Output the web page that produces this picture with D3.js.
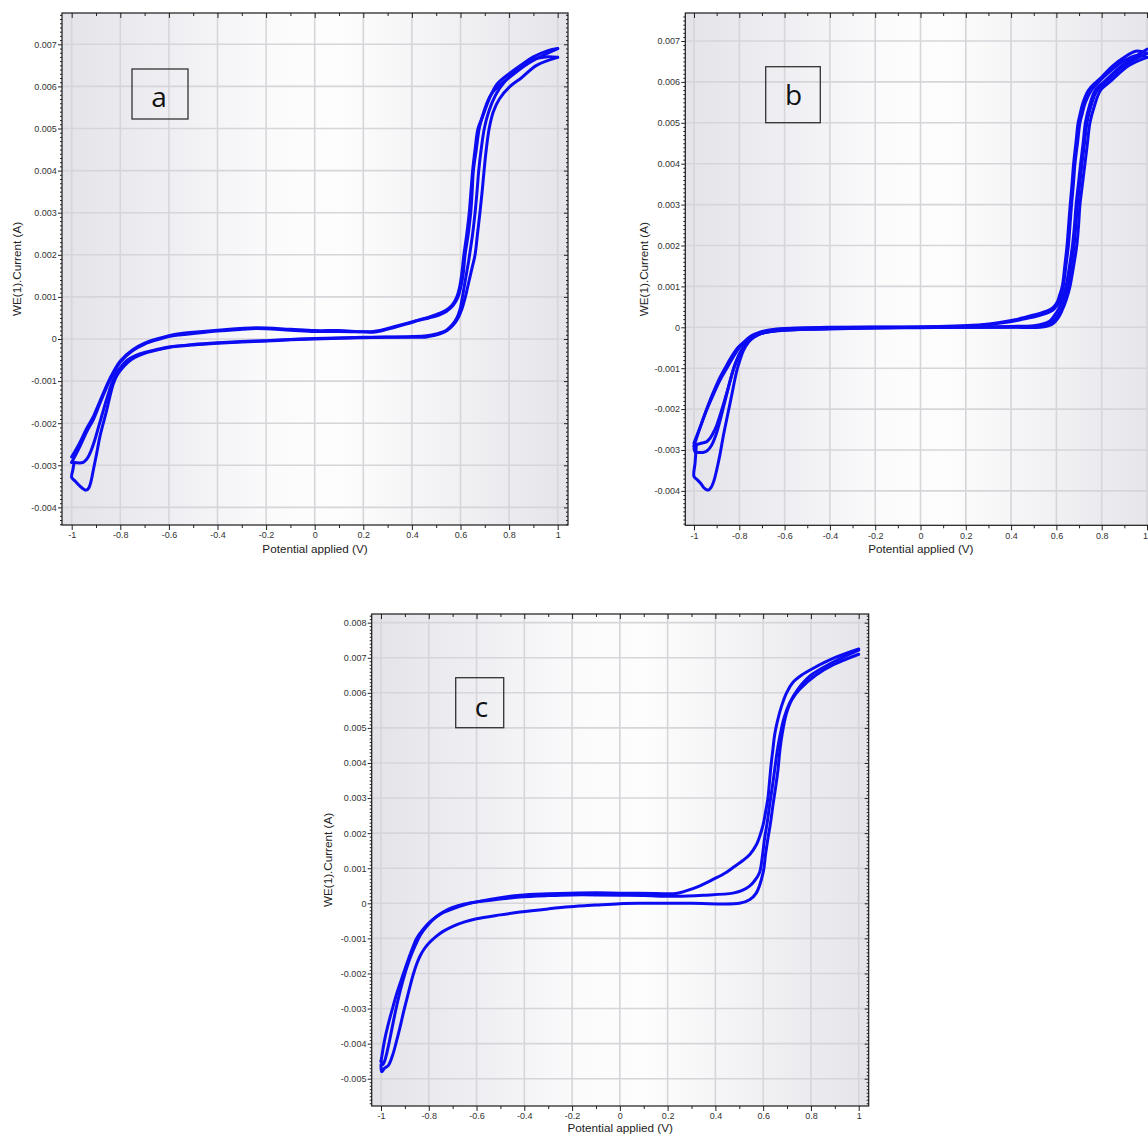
<!DOCTYPE html>
<html>
<head>
<meta charset="utf-8">
<script src="https://cdn.jsdelivr.net/npm/d3@7"></script>
<style>
  body { margin: 0; background: #ffffff; }
  svg { display: block; }
</style>
</head>
<body>
<script>
// ---------------- DATA (Potential V, Current A) ----------------
const xTicks = [-1, -0.8, -0.6, -0.4, -0.2, 0, 0.2, 0.4, 0.6, 0.8, 1];
const aYTicks = [-0.004, -0.003, -0.002, -0.001, 0, 0.001, 0.002, 0.003, 0.004, 0.005, 0.006, 0.007];
const bYTicks = [-0.004, -0.003, -0.002, -0.001, 0, 0.001, 0.002, 0.003, 0.004, 0.005, 0.006, 0.007];
const cYTicks = [-0.005, -0.004, -0.003, -0.002, -0.001, 0, 0.001, 0.002, 0.003, 0.004, 0.005, 0.006, 0.007, 0.008];
const panelLetters = ["a", "b", "c"];
const xTitle = "Potential applied (V)";
const yTitle = "WE(1).Current (A)";

// Panel a
const aFwd1 = [[-0.99,-0.00293],[-0.995,-0.0031],[-1.0,-0.00329],[-0.985,-0.00338],[-0.965,-0.0035],[-0.95,-0.00357],[-0.941,-0.00359],[-0.93,-0.00354],[-0.92,-0.00337],[-0.911,-0.00311],[-0.897,-0.00271],[-0.884,-0.00232],[-0.87,-0.002],[-0.856,-0.00169],[-0.843,-0.00137],[-0.829,-0.00107],[-0.815,-0.00088],[-0.8,-0.00075],[-0.77,-0.00056],[-0.74,-0.00044],[-0.7,-0.00034],[-0.65,-0.00026],[-0.6,-0.0002],[-0.5,-0.00014],[-0.4,-0.0001],[-0.3,-0.00007],[-0.2,-0.00005],[-0.1,-0.00002],[0.0,0.0],[0.1,0.00002],[0.2,0.00003],[0.3,0.00004],[0.4,0.00004],[0.46,0.00005],[0.49,0.00008],[0.516,0.00012],[0.545,0.0002],[0.57,0.00033],[0.59,0.0005],[0.605,0.0007],[0.62,0.001],[0.632,0.0013],[0.648,0.0017],[0.66,0.002],[0.67,0.0025],[0.68,0.003],[0.689,0.0035],[0.697,0.004],[0.706,0.0045],[0.718,0.005],[0.735,0.0054],[0.76,0.0057],[0.804,0.006],[0.85,0.0062],[0.913,0.0065],[1.0,0.00669]];
const aRev1 = [[1.0,0.00669],[0.95,0.0067],[0.9,0.00664],[0.866,0.0065],[0.82,0.0063],[0.78,0.00612],[0.756,0.006],[0.725,0.0058],[0.702,0.0055],[0.686,0.0052],[0.677,0.005],[0.665,0.0045],[0.653,0.004],[0.648,0.0035],[0.642,0.003],[0.632,0.0025],[0.619,0.002],[0.61,0.0015],[0.6,0.0012],[0.59,0.001],[0.57,0.0008],[0.543,0.00066],[0.516,0.00058],[0.47,0.0005],[0.433,0.00045],[0.38,0.00036],[0.33,0.00028],[0.28,0.0002],[0.241,0.00016],[0.2,0.00017],[0.1,0.00018],[0.0,0.00018],[-0.1,0.00021],[-0.24,0.00025],[-0.3,0.00023],[-0.4,0.00019],[-0.45,0.00016],[-0.5,0.00013],[-0.55,0.0001],[-0.6,0.00006],[-0.65,-0.00002],[-0.7,-0.00012],[-0.75,-0.00028],[-0.8,-0.00055],[-0.842,-0.00097],[-0.884,-0.00153],[-0.91,-0.0019],[-0.938,-0.0022],[-0.97,-0.0026],[-1.0,-0.00293]];
const aFwd2 = [[-1.0,-0.00293],[-0.98,-0.00294],[-0.96,-0.00294],[-0.95,-0.00292],[-0.935,-0.00283],[-0.92,-0.00265],[-0.905,-0.0024],[-0.89,-0.0021],[-0.875,-0.0018],[-0.86,-0.0015],[-0.845,-0.00122],[-0.83,-0.00098],[-0.815,-0.0008],[-0.8,-0.00068],[-0.77,-0.0005],[-0.74,-0.0004],[-0.7,-0.00032],[-0.65,-0.00025],[-0.6,-0.00019],[-0.5,-0.00013],[-0.4,-0.00009],[-0.3,-0.00006],[-0.2,-0.00004],[-0.1,-0.00001],[0.0,0.00001],[0.2,0.00004],[0.4,0.00006],[0.46,0.00008],[0.5,0.00012],[0.54,0.0002],[0.565,0.00033],[0.585,0.0005],[0.598,0.0007],[0.608,0.001],[0.62,0.0014],[0.632,0.0018],[0.64,0.0021],[0.65,0.0025],[0.66,0.003],[0.668,0.0035],[0.675,0.004],[0.685,0.0045],[0.698,0.005],[0.716,0.0054],[0.745,0.0058],[0.78,0.0061],[0.84,0.0064],[0.92,0.00668],[1.0,0.0069]];
const aRev2 = [[1.0,0.0069],[0.96,0.00685],[0.9,0.0067],[0.86,0.00655],[0.8,0.0063],[0.75,0.00605],[0.718,0.0057],[0.692,0.0053],[0.672,0.005],[0.66,0.0045],[0.65,0.004],[0.643,0.0035],[0.636,0.003],[0.626,0.0025],[0.614,0.002],[0.604,0.0015],[0.595,0.0012],[0.585,0.001],[0.565,0.0008],[0.54,0.00068],[0.5,0.00058],[0.433,0.00046],[0.33,0.0003],[0.241,0.00018],[0.1,0.0002],[0.0,0.0002],[-0.1,0.00023],[-0.24,0.00027],[-0.4,0.00021],[-0.5,0.00016],[-0.55,0.00013],[-0.6,0.00008],[-0.65,0.0],[-0.7,-0.0001],[-0.75,-0.00026],[-0.8,-0.00052],[-0.842,-0.00093],[-0.884,-0.00148],[-0.91,-0.00183],[-0.938,-0.00212],[-0.97,-0.0025],[-1.0,-0.0028]];

// Panel b
const bFwd1 = [[-0.99,-0.0029],[-0.995,-0.0033],[-1.0,-0.00365],[-0.985,-0.00373],[-0.97,-0.00382],[-0.955,-0.00393],[-0.945,-0.00397],[-0.937,-0.00398],[-0.925,-0.00392],[-0.912,-0.00375],[-0.9,-0.00349],[-0.885,-0.0031],[-0.871,-0.00267],[-0.856,-0.00226],[-0.841,-0.00186],[-0.826,-0.00145],[-0.811,-0.00106],[-0.797,-0.0008],[-0.782,-0.00057],[-0.76,-0.00037],[-0.738,-0.00024],[-0.7,-0.00014],[-0.65,-0.00009],[-0.6,-0.00007],[-0.5,-0.00005],[-0.4,-0.00004],[-0.2,-0.00002],[0.0,-0.00001],[0.2,0.0],[0.4,0.0],[0.528,0.0],[0.56,0.00003],[0.587,0.0001],[0.61,0.00025],[0.624,0.0004],[0.645,0.0007],[0.66,0.001],[0.676,0.0015],[0.69,0.002],[0.698,0.0025],[0.704,0.003],[0.715,0.0035],[0.726,0.004],[0.737,0.0045],[0.748,0.005],[0.767,0.0054],[0.795,0.0058],[0.836,0.006],[0.92,0.0064],[1.0,0.0066]];
const bRev1 = [[1.0,0.0066],[0.96,0.00665],[0.9,0.00652],[0.85,0.00632],[0.8,0.00607],[0.78,0.00595],[0.755,0.0058],[0.728,0.0055],[0.713,0.0052],[0.704,0.005],[0.693,0.0045],[0.682,0.004],[0.675,0.0035],[0.667,0.003],[0.66,0.0025],[0.653,0.002],[0.642,0.0015],[0.63,0.001],[0.62,0.0008],[0.609,0.0006],[0.59,0.00045],[0.572,0.00038],[0.52,0.00028],[0.454,0.0002],[0.38,0.00012],[0.307,0.00007],[0.2,0.00003],[0.0,0.0],[-0.2,0.0],[-0.4,-0.00001],[-0.591,-0.00004],[-0.65,-0.00007],[-0.709,-0.00014],[-0.74,-0.00022],[-0.767,-0.00034],[-0.8,-0.0005],[-0.826,-0.00072],[-0.855,-0.001],[-0.885,-0.00129],[-0.915,-0.00165],[-0.944,-0.00202],[-0.97,-0.0024],[-1.0,-0.00283]];
const bFwd2 = [[-1.0,-0.00295],[-0.995,-0.00305],[-0.98,-0.00306],[-0.96,-0.00306],[-0.945,-0.00303],[-0.93,-0.00295],[-0.915,-0.0028],[-0.9,-0.00258],[-0.885,-0.00228],[-0.87,-0.00195],[-0.855,-0.00162],[-0.84,-0.0013],[-0.825,-0.001],[-0.81,-0.00078],[-0.795,-0.0006],[-0.775,-0.00044],[-0.75,-0.0003],[-0.72,-0.00019],[-0.68,-0.00012],[-0.6,-0.00007],[-0.4,-0.00003],[-0.2,-0.00001],[0.0,0.0],[0.2,0.0],[0.4,0.00001],[0.52,0.00002],[0.555,0.00005],[0.58,0.00012],[0.6,0.00025],[0.618,0.0004],[0.636,0.0007],[0.65,0.001],[0.665,0.0015],[0.678,0.002],[0.686,0.0025],[0.693,0.003],[0.703,0.0035],[0.713,0.004],[0.724,0.0045],[0.735,0.005],[0.752,0.0054],[0.78,0.0058],[0.82,0.006],[0.9,0.0064],[1.0,0.0067]];
const bRev2 = [[1.0,0.0067],[0.95,0.00675],[0.9,0.0066],[0.85,0.0064],[0.8,0.00612],[0.772,0.00598],[0.742,0.0058],[0.718,0.0055],[0.704,0.0052],[0.696,0.005],[0.686,0.0045],[0.676,0.004],[0.669,0.0035],[0.661,0.003],[0.654,0.0025],[0.647,0.002],[0.637,0.0015],[0.626,0.001],[0.615,0.0008],[0.604,0.00062],[0.585,0.00048],[0.56,0.0004],[0.5,0.0003],[0.43,0.0002],[0.35,0.00012],[0.28,0.00007],[0.15,0.00003],[0.0,0.00001],[-0.2,0.00001],[-0.4,0.0],[-0.6,-0.00003],[-0.66,-0.00006],[-0.715,-0.00013],[-0.745,-0.0002],[-0.772,-0.00032],[-0.805,-0.00049],[-0.832,-0.0007],[-0.86,-0.00097],[-0.89,-0.00128],[-0.92,-0.00166],[-0.948,-0.00206],[-0.975,-0.00248],[-1.0,-0.0029]];
const bFwd3 = [[-1.0,-0.0029],[-0.985,-0.00286],[-0.965,-0.00283],[-0.945,-0.0028],[-0.93,-0.00272],[-0.915,-0.00258],[-0.9,-0.0024],[-0.885,-0.00215],[-0.87,-0.00188],[-0.855,-0.0016],[-0.84,-0.0013],[-0.825,-0.00102],[-0.81,-0.0008],[-0.795,-0.00062],[-0.775,-0.00045],[-0.75,-0.0003],[-0.72,-0.00019],[-0.68,-0.00012],[-0.6,-0.00006],[-0.4,-0.00003],[-0.2,-0.00001],[0.0,0.0],[0.2,0.00001],[0.4,0.00002],[0.5,0.00004],[0.54,0.00008],[0.57,0.00015],[0.59,0.00028],[0.61,0.00045],[0.628,0.00075],[0.642,0.001],[0.658,0.0015],[0.671,0.002],[0.68,0.0025],[0.687,0.003],[0.697,0.0035],[0.707,0.004],[0.718,0.0045],[0.728,0.005],[0.745,0.0054],[0.772,0.0058],[0.81,0.006],[0.89,0.0064],[1.0,0.0068]];

// Panel c
const cFwd1 = [[-1.0,-0.0046],[-0.997,-0.0048],[-0.985,-0.0047],[-0.969,-0.00462],[-0.95,-0.0043],[-0.934,-0.0039],[-0.92,-0.00352],[-0.907,-0.00314],[-0.893,-0.00276],[-0.879,-0.00238],[-0.865,-0.00203],[-0.851,-0.00174],[-0.837,-0.00151],[-0.82,-0.00131],[-0.8,-0.00114],[-0.77,-0.00095],[-0.74,-0.0008],[-0.697,-0.00065],[-0.65,-0.00053],[-0.6,-0.00044],[-0.5,-0.00033],[-0.418,-0.00025],[-0.3,-0.00016],[-0.209,-0.0001],[-0.1,-0.00005],[0.0,-0.00001],[0.1,0.0],[0.3,0.0],[0.501,0.0],[0.543,0.0001],[0.571,0.00029],[0.6,0.00088],[0.61,0.0014],[0.62,0.00185],[0.631,0.0023],[0.641,0.0028],[0.652,0.0033],[0.662,0.0038],[0.669,0.0043],[0.679,0.0048],[0.697,0.0054],[0.72,0.0058],[0.753,0.0061],[0.82,0.0065],[0.894,0.0068],[1.0,0.0071]];
const cRev1 = [[1.0,0.00725],[0.9,0.007],[0.81,0.0067],[0.76,0.0065],[0.725,0.0063],[0.698,0.006],[0.676,0.0056],[0.66,0.0052],[0.648,0.0048],[0.641,0.0044],[0.634,0.004],[0.627,0.0035],[0.62,0.003],[0.61,0.0026],[0.6,0.00224],[0.585,0.0019],[0.571,0.00166],[0.545,0.0014],[0.515,0.00122],[0.48,0.00105],[0.445,0.00088],[0.39,0.00068],[0.333,0.00049],[0.28,0.00036],[0.235,0.00028],[0.15,0.00028],[0.0,0.00029],[-0.1,0.0003],[-0.209,0.00029],[-0.3,0.00027],[-0.418,0.00023],[-0.5,0.00016],[-0.6,0.00004],[-0.65,-0.00004],[-0.697,-0.00015],[-0.75,-0.0003],[-0.795,-0.00053],[-0.825,-0.00075],[-0.851,-0.001],[-0.872,-0.00135],[-0.892,-0.00172],[-0.913,-0.00214],[-0.934,-0.00257],[-0.952,-0.003],[-0.969,-0.00343],[-0.985,-0.0039],[-0.997,-0.00438],[-1.0,-0.0045]];
const cFwd2 = [[-1.0,-0.0045],[-0.993,-0.0046],[-0.985,-0.0045],[-0.97,-0.0041],[-0.955,-0.0036],[-0.94,-0.0031],[-0.925,-0.00265],[-0.91,-0.00225],[-0.893,-0.00185],[-0.875,-0.0015],[-0.855,-0.00118],[-0.835,-0.0009],[-0.81,-0.00067],[-0.78,-0.00045],[-0.74,-0.00025],[-0.7,-0.00012],[-0.65,-0.00002],[-0.6,0.00004],[-0.5,0.00012],[-0.418,0.00018],[-0.3,0.00022],[-0.2,0.00024],[-0.1,0.00024],[0.0,0.00023],[0.1,0.00022],[0.235,0.0002],[0.35,0.00023],[0.473,0.00029],[0.51,0.00036],[0.543,0.00049],[0.565,0.00065],[0.585,0.00088],[0.596,0.0013],[0.606,0.00185],[0.617,0.0023],[0.627,0.0028],[0.638,0.0033],[0.648,0.0038],[0.658,0.0043],[0.671,0.0048],[0.688,0.0053],[0.71,0.0057],[0.745,0.0061],[0.8,0.0065],[0.9,0.0069],[1.0,0.00722]];

// ---------------- LAYOUT ----------------
const W = 1148, H = 1135;
const panels = [
  { letter: panelLetters[0], l: 62, t: 13, r: 568, b: 525, xm1: 71.7, xp1: 557.7, y0: 339, pxPerMilli: 42.1,
    yTicks: aYTicks, scans: [aFwd1, aRev1, aFwd2, aRev2],
    box: { x: 132, y: 69, w: 56, h: 50, tx: 159, ty: 107 }, yTitleX: 21, xTitleY: 553 },
  { letter: panelLetters[1], l: 685.3, t: 13, r: 1156.5, b: 525.3, xm1: 694, xp1: 1147, y0: 327.3, pxPerMilli: 40.9,
    yTicks: bYTicks, scans: [bFwd1, bRev1, bFwd2, bRev2, bFwd3],
    box: { x: 765.7, y: 66.7, w: 54.6, h: 56, tx: 793.5, ty: 105 }, yTitleX: 648, xTitleY: 553 },
  { letter: panelLetters[2], l: 371.7, t: 614, r: 868.7, b: 1106, xm1: 381, xp1: 858.7, y0: 903.3, pxPerMilli: 35.08,
    yTicks: cYTicks, scans: [cFwd1, cRev1, cFwd2],
    box: { x: 455.7, y: 677.7, w: 48, h: 50, tx: 481.5, ty: 716.5 }, yTitleX: 332, xTitleY: 1132 }
];

const svg = d3.select("body").append("svg").attr("width", W).attr("height", H);
const defs = svg.append("defs");
const grad = defs.append("linearGradient").attr("id", "bgGrad").attr("x1", "0").attr("x2", "1").attr("y1", "0").attr("y2", "0");
[[0, "#e3e3e9"], [0.15, "#ebebf0"], [0.42, "#fbfbfc"], [0.55, "#fdfdfd"], [0.8, "#f0f0f3"], [1, "#e4e4ea"]]
  .forEach(([o, c]) => grad.append("stop").attr("offset", o).attr("stop-color", c));

const fmtX = d => String(+d.toFixed(1));
const fmtY = d => String(+d.toFixed(3));
const FONT = "'Liberation Sans', Arial, sans-serif";
const xMinor = d3.range(-9, 10, 2).map(k => k / 10);

panels.forEach((p, i) => {
  const x = d3.scaleLinear().domain([-1, 1]).range([p.xm1, p.xp1]);
  const y = d3.scaleLinear().domain([0, 0.001]).range([p.y0, p.y0 - p.pxPerMilli]);
  const yMin = y.invert(p.b), yMax = y.invert(p.t);
  const yMinor = d3.range(Math.ceil(yMin * 10000), Math.floor(yMax * 10000) + 1)
    .filter(k => k % 10 !== 0).map(k => k / 10000);

  const g = svg.append("g");
  g.append("rect").attr("x", p.l).attr("y", p.t).attr("width", p.r - p.l).attr("height", p.b - p.t)
    .attr("fill", "url(#bgGrad)");

  const clipId = "clip" + i;
  defs.append("clipPath").attr("id", clipId).append("rect")
    .attr("x", p.l).attr("y", p.t).attr("width", p.r - p.l).attr("height", p.b - p.t);

  const grid = g.append("g").attr("clip-path", `url(#${clipId})`);
  grid.selectAll("line.v").data(xTicks).join("line")
    .attr("x1", d => x(d)).attr("x2", d => x(d)).attr("y1", p.t).attr("y2", p.b)
    .attr("stroke", "#d6d6da").attr("stroke-width", 1.6);
  grid.selectAll("line.h").data(p.yTicks).join("line")
    .attr("x1", p.l).attr("x2", p.r).attr("y1", d => y(d)).attr("y2", d => y(d))
    .attr("stroke", "#d6d6da").attr("stroke-width", 1.6);

  // label box
  g.append("rect").attr("x", p.box.x).attr("y", p.box.y).attr("width", p.box.w).attr("height", p.box.h)
    .attr("fill", "none").attr("stroke", "#333").attr("stroke-width", 1.3);
  g.append("text").attr("x", p.box.tx).attr("y", p.box.ty).attr("text-anchor", "middle")
    .attr("font-family", "'Open Sans', 'Noto Sans', sans-serif").attr("font-size", 28).attr("fill", "#111")
    .text(p.letter);

  // curves
  const line = d3.line().x(d => x(d[0])).y(d => y(d[1])).curve(d3.curveCatmullRom.alpha(0.5));
  const curves = g.append("g").attr("clip-path", `url(#${clipId})`);
  curves.selectAll("path").data(p.scans).join("path")
    .attr("d", line).attr("fill", "none").attr("stroke", "#0c0cf2")
    .attr("stroke-width", 3).attr("stroke-linejoin", "round").attr("stroke-linecap", "round");

  // axes
  const styleAxis = sel => {
    sel.select(".domain").remove();
    sel.selectAll("line").attr("stroke", "#222");
    sel.selectAll("text").attr("font-family", FONT).attr("font-size", 9).attr("fill", "#333");
  };
  const bottomAxis = g.append("g").attr("transform", `translate(0,${p.b})`)
    .call(d3.axisBottom(x).tickValues(xTicks).tickSize(5).tickPadding(2.1).tickFormat(fmtX)).call(styleAxis);
  g.append("g").attr("transform", `translate(0,${p.b})`)
    .call(d3.axisBottom(x).tickValues(xMinor).tickSize(3).tickFormat("")).call(styleAxis);
  g.append("g").attr("transform", `translate(0,${p.t})`)
    .call(d3.axisTop(x).tickValues(xTicks).tickSize(-5).tickFormat("")).call(styleAxis);
  g.append("g").attr("transform", `translate(0,${p.t})`)
    .call(d3.axisTop(x).tickValues(xMinor).tickSize(-3).tickFormat("")).call(styleAxis);
  g.append("g").attr("transform", `translate(${p.l},0)`)
    .call(d3.axisLeft(y).tickValues(p.yTicks).tickSize(4).tickPadding(1.3).tickFormat(fmtY)).call(styleAxis);
  g.append("g").attr("transform", `translate(${p.l},0)`)
    .call(d3.axisLeft(y).tickValues(yMinor).tickSize(2).tickFormat("")).call(styleAxis);
  g.append("g").attr("transform", `translate(${p.r},0)`)
    .call(d3.axisRight(y).tickValues(p.yTicks).tickSize(-4).tickFormat("")).call(styleAxis);
  g.append("g").attr("transform", `translate(${p.r},0)`)
    .call(d3.axisRight(y).tickValues(yMinor).tickSize(-2).tickFormat("")).call(styleAxis);

  // keep tick labels inside the page edge
  bottomAxis.selectAll("text").each(function () {
    const bb = this.getBBox();
    const tx = x(+d3.select(this.parentNode).datum());
    const right = tx + bb.x + bb.width;
    if (right > W - 0.5) d3.select(this).attr("dx", (W - 0.5 - right) + "px");
  });

  g.append("rect").attr("x", p.l).attr("y", p.t).attr("width", p.r - p.l).attr("height", p.b - p.t)
    .attr("fill", "none").attr("stroke", "#1a1a1a").attr("stroke-width", 1.2);

  // titles
  g.append("text").attr("transform", `translate(${p.yTitleX},${(p.t + p.b) / 2}) rotate(-90)`)
    .attr("text-anchor", "middle").attr("font-family", FONT).attr("font-size", 11.7).attr("fill", "#222")
    .text(yTitle);
  g.append("text").attr("x", (p.l + p.r) / 2).attr("y", p.xTitleY)
    .attr("text-anchor", "middle").attr("font-family", FONT).attr("font-size", 11.7).attr("fill", "#222")
    .text(xTitle);
});
</script>
</body>
</html>
